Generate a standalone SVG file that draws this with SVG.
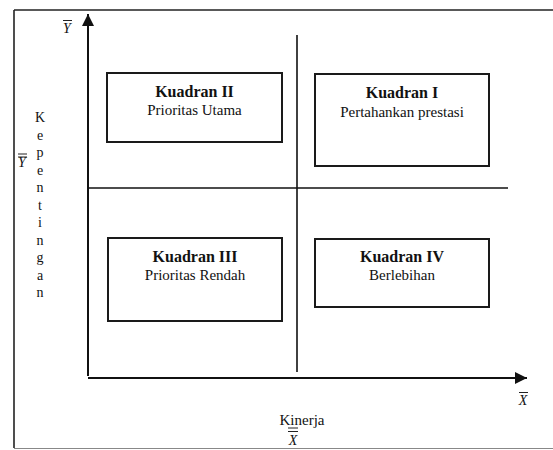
<svg xmlns="http://www.w3.org/2000/svg" width="553" height="450" viewBox="0 0 553 450">
<style>
.box{fill:#fff;stroke:#1a1a1a;stroke-width:2}
.ax{stroke:#111;stroke-width:2;fill:none}
.mid{stroke:#111;stroke-width:1.6;fill:none}
.bar{stroke:#222;stroke-width:1}
text{font-family:"Liberation Serif","Times New Roman",serif;fill:#111}
.b{font-weight:bold;font-size:16px;text-anchor:middle}
.r{font-size:15px;text-anchor:middle}
.v{font-size:14px;text-anchor:middle}
.i{font-style:italic;font-size:15px;text-anchor:middle}
</style>
<defs>
<marker id="ah" viewBox="0 0 12 12" refX="12" refY="6" markerWidth="12" markerHeight="12" markerUnits="userSpaceOnUse" orient="auto">
<path d="M0,0 L12,6 L0,12 Z" fill="#111"/>
</marker>
</defs>
<rect width="553" height="450" fill="#fff"/>
<g id="frame">
<line x1="14" y1="10" x2="14" y2="448" stroke="#222" stroke-width="1.6"/>
<line x1="14" y1="10" x2="553" y2="10" stroke="#222" stroke-width="1.6"/>
</g>
<g id="connectors">
<line class="ax" x1="88" y1="376" x2="88" y2="14" marker-end="url(#ah)"/>
<line class="ax" x1="88" y1="378" x2="527" y2="378" marker-end="url(#ah)"/>
<line class="mid" x1="88" y1="188" x2="508" y2="188"/>
<line class="mid" x1="297" y1="35" x2="297" y2="372"/>
</g>
<g id="q2">
<rect class="box" x="107" y="73" width="175" height="69"/>
<text class="b" x="194.5" y="97">Kuadran II</text>
<text class="r" x="194.5" y="115">Prioritas Utama</text>
</g>
<g id="q1">
<rect class="box" x="315" y="74" width="174" height="92"/>
<text class="b" x="402" y="98">Kuadran I</text>
<text class="r" x="402" y="117">Pertahankan prestasi</text>
</g>
<g id="q3">
<rect class="box" x="108" y="238" width="174" height="83"/>
<text class="b" x="195" y="262">Kuadran III</text>
<text class="r" x="195" y="280">Prioritas Rendah</text>
</g>
<g id="q4">
<rect class="box" x="315" y="239" width="174" height="68"/>
<text class="b" x="402" y="262">Kuadran IV</text>
<text class="r" x="402" y="280">Berlebihan</text>
</g>
<g id="ylabel">
<text class="v" x="40" y="122">K</text>
<text class="v" x="40" y="139.5">e</text>
<text class="v" x="40" y="157">p</text>
<text class="v" x="40" y="174.5">e</text>
<text class="v" x="40" y="192">n</text>
<text class="v" x="40" y="209.5">t</text>
<text class="v" x="40" y="227">i</text>
<text class="v" x="40" y="244.5">n</text>
<text class="v" x="40" y="262">g</text>
<text class="v" x="40" y="279.5">a</text>
<text class="v" x="40" y="297">n</text>
</g>
<g id="ybarbar">
<text class="i" x="22" y="167" style="font-size:14px">Y</text>
<line class="bar" x1="18" y1="154" x2="27" y2="154"/>
<line class="bar" x1="18" y1="157" x2="27" y2="157"/>
</g>
<g id="ybar">
<text class="i" x="67" y="33" style="font-size:14px">Y</text>
<line class="bar" x1="63" y1="20.5" x2="72" y2="20.5"/>
</g>
<g id="xbar">
<text class="i" x="523" y="405" style="font-size:14px">X</text>
<line class="bar" x1="519" y1="392.5" x2="528" y2="392.5"/>
</g>
<g id="xlabel">
<text class="r" x="302" y="425">Kinerja</text>
<text class="i" x="293" y="445" style="font-size:14px">X</text>
<line class="bar" x1="288" y1="428" x2="298" y2="428"/>
<line class="bar" x1="288" y1="431.5" x2="298" y2="431.5"/>
</g>
<line x1="14" y1="448.5" x2="553" y2="448.5" stroke="#888" stroke-width="1.2"/>
</svg>
